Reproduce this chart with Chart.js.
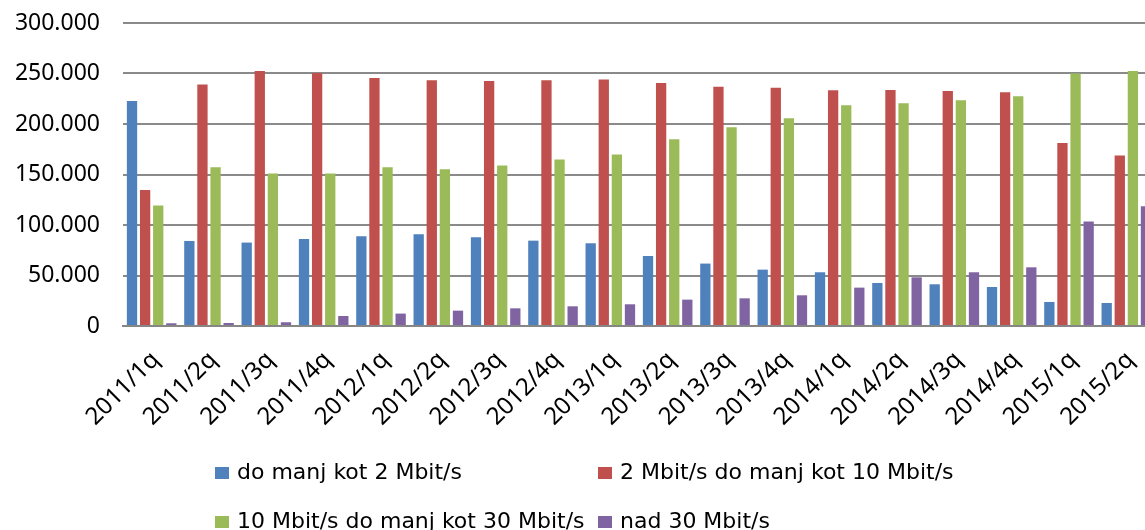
<!DOCTYPE html>
<html>
<head>
<meta charset="utf-8">
<script src="https://cdn.jsdelivr.net/npm/chart.js@4.4.0/dist/chart.umd.min.js"></script>
<style>
html, body { margin: 0; padding: 0; background: #fff; overflow: hidden; }
#wrap { position: relative; width: 1145px; height: 530px; overflow: hidden; }
#chart { position: absolute; left: 0; top: 0; }
.item { position: absolute; font-family: "DejaVu Sans", sans-serif; font-size: 22px; line-height: 26px; color: #000; white-space: nowrap; }
.item .box { position: absolute; left: 0; top: 8px; width: 14px; height: 12px; }
.item .txt { position: absolute; left: 22px; top: 0; }
</style>
</head>
<body>
<div id="wrap">
  <canvas id="chart" width="1160" height="530"></canvas>
  <div id="legend"></div>
</div>
<script>
// kvartali
const quarters = ['2011/1q', '2011/2q', '2011/3q', '2011/4q', '2012/1q', '2012/2q', '2012/3q', '2012/4q',
  '2013/1q', '2013/2q', '2013/3q', '2013/4q', '2014/1q', '2014/2q', '2014/3q', '2014/4q', '2015/1q', '2015/2q'];

// stevilo prikljuckov po hitrosti
const under2 = [222800, 84200, 82600, 86100, 88800, 90800, 87800, 84500, 81900, 69300, 61800, 55800,
  53200, 42600, 41300, 38600, 23800, 22800];
const from2to10 = [134700, 239000, 252500, 250500, 245500, 243300, 242600, 243300, 244000, 240600, 237000, 236000,
  233400, 233700, 232700, 231400, 181200, 168700];
const from10to30 = [119200, 157100, 150900, 150900, 157100, 155100, 158800, 164800, 169700, 184900, 196700, 205600,
  218500, 220500, 223500, 227400, 249900, 252500];
const over30 = [2700, 3000, 3700, 9900, 12300, 15200, 17500, 19500, 21500, 26100, 27400, 30400,
  38000, 48200, 53200, 58100, 103400, 118500];

const seriesNames = ['do manj kot 2 Mbit/s', '2 Mbit/s do manj kot 10 Mbit/s', '10 Mbit/s do manj kot 30 Mbit/s', 'nad 30 Mbit/s'];
const colors = ['#4F81BD', '#C0504D', '#9BBB59', '#8064A2'];
const yMax = 300000;
const yStep = 50000;

const allSeries = [under2, from2to10, from10to30, over30];

// pika kot locilo tisocic
const fmt = (v) => v.toString().replace(/\B(?=(\d{3})+(?!\d))/g, '.');

// poševne oznake pod osjo x
const slantLabels = {
  id: 'slantLabels',
  afterDraw(chart) {
    const xs = chart.scales.x;
    const ctx = chart.ctx;
    ctx.save();
    ctx.fillStyle = '#000';
    ctx.font = '24px "Noto Sans"';
    ctx.textAlign = 'right';
    ctx.textBaseline = 'middle';
    quarters.forEach((q, i) => {
      const x = xs.getPixelForValue(i);
      ctx.save();
      ctx.translate(x + 4, xs.top + 30);
      ctx.rotate(-Math.PI / 4);
      ctx.fillText(q, 0, 0);
      ctx.restore();
    });
    ctx.restore();
  }
};

new Chart(document.getElementById('chart'), {
  type: 'bar',
  data: {
    labels: quarters,
    datasets: allSeries.map((d, i) => ({
      label: seriesNames[i],
      data: d,
      backgroundColor: colors[i],
      borderWidth: 0,
      categoryPercentage: 0.914,
      barPercentage: 0.786
    }))
  },
  options: {
    responsive: false,
    animation: false,
    layout: { autoPadding: false, padding: { top: 23, right: 5, left: 0, bottom: 0 } },
    plugins: { legend: { display: false }, tooltip: { enabled: false } },
    scales: {
      x: {
        grid: { display: false },
        border: { color: '#868686', width: 2 },
        ticks: { display: false },
        afterFit: (s) => { s.height = 204; }
      },
      y: {
        min: 0,
        max: yMax,
        // nevidne oznake namesto odmika, da se zgornji rob ne premakne
        grid: { color: '#8a8a8a', lineWidth: 2, drawTicks: true, tickLength: 23, tickColor: 'rgba(0,0,0,0)' },
        border: { display: false },
        ticks: {
          stepSize: yStep,
          color: '#000',
          font: { family: 'Noto Sans', size: 23 },
          padding: 0,
          callback: (v) => fmt(v)
        },
        afterFit: (s) => { s.width = 123; }
      }
    }
  },
  plugins: [slantLabels]
});

// legenda v dveh stolpcih
const legendPos = [[215, 459], [598, 459], [215, 508], [598, 508]];
const legend = document.getElementById('legend');
seriesNames.forEach((name, i) => {
  const el = document.createElement('div');
  el.className = 'item';
  el.style.left = legendPos[i][0] + 'px';
  el.style.top = legendPos[i][1] + 'px';
  el.innerHTML = '<span class="box" style="background:' + colors[i] + '"></span><span class="txt">' + name + '</span>';
  legend.appendChild(el);
});
</script>
</body>
</html>
